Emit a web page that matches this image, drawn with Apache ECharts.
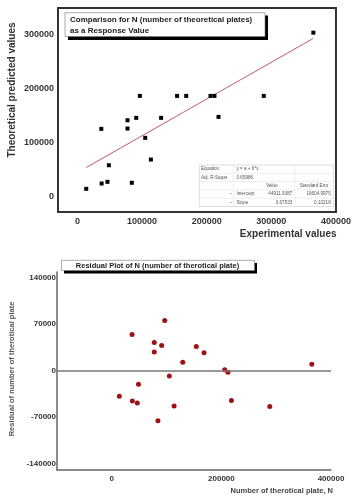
<!DOCTYPE html>
<html>
<head>
<meta charset="utf-8">
<script src="https://cdn.jsdelivr.net/npm/echarts@6/dist/echarts.min.js"></script>
<style>
  html, body { margin: 0; padding: 0; background: #fff; }
  #chart { width: 354px; height: 500px; }
</style>
</head>
<body>
<div id="chart"></div>
<script>
// experimental N values (shared by both plots)
const expX = [13700, 37000, 37500, 46500, 48700, 77500, 77500, 84200, 91000, 96600,
              104900, 113700, 129500, 154200, 168300, 205900, 212000, 218300, 288300, 365000]
// theoretical predicted N
const predY = [14700, 125200, 24500, 27600, 58200, 125800, 141100, 25800, 145500, 186000,
               108700, 68700, 145500, 186000, 186000, 186000, 186000, 147300, 186000, 302600]
// residuals
const residual = [-39000, 54000, -46000, -49000, -21000, 42000, 27500, -76000, 37500, 75000,
                  -8500, -53500, 12000, 36000, 26500, 1000, -3000, -45500, -54500, 9000]
// linear fit line ends
const fitX = [13700, 365000]
const fitY = [54000, 292000]

const topTicksX = [0, 100000, 200000, 300000, 400000]
const topTicksY = [0, 100000, 200000, 300000]
const resTicksX = [0, 200000, 400000]
const resTicksY = [-140000, -70000, 0, 70000, 140000]

// fit result table
const tableRows = [
  ['Equation', '', 'y = a + b*x', '', ''],
  ['Adj. R-Squar', '', '0.65986', '', ''],
  ['', '', '', 'Value', 'Standard Erro'],
  ['', '–', 'Intercept', '44911.9387', '16604.9975'],
  ['', '–', 'Slope', '0.67533', '0.10218']
]

const FONT = 'Liberation Sans, Arial, sans-serif'
const plain = v => String(v)

const chart = echarts.init(document.getElementById('chart'))

// table graphic
const tX = 199.3, tY = 165, tW = 134, rowH = 8.3
const tableEls = [{
  type: 'rect',
  shape: {x: tX, y: tY, width: tW, height: rowH * 5},
  style: {fill: '#fff', stroke: '#c8c8c8', lineWidth: 0.6},
  z: 100
}]
for (let i = 1; i < 5; i++) {
  tableEls.push({
    type: 'line',
    shape: {x1: tX, y1: tY + rowH * i, x2: tX + tW, y2: tY + rowH * i},
    style: {stroke: '#dcdcdc', lineWidth: 0.5},
    z: 101
  })
}
;[233.3, 295].forEach(x => {
  tableEls.push({
    type: 'line',
    shape: {x1: x, y1: tY, x2: x, y2: tY + rowH * 5},
    style: {stroke: '#dcdcdc', lineWidth: 0.5},
    z: 101
  })
})
tableRows.forEach((row, i) => {
  const cy = tY + rowH * i + rowH / 2
  const cells = [
    {t: row[0], x: 201, a: 'left'},
    {t: row[1], x: 232, a: 'right'},
    {t: row[2], x: 236.5, a: 'left'},
    {t: row[3], x: i === 2 ? 272 : 292.3, a: i === 2 ? 'center' : 'right'},
    {t: row[4], x: i === 2 ? 314 : 330.7, a: i === 2 ? 'center' : 'right'}
  ]
  cells.forEach(c => {
    if (!c.t) return
    tableEls.push({
      type: 'text',
      x: c.x, y: cy,
      style: {text: c.t, fontSize: 4.6, fontFamily: FONT, fill: '#555', align: c.a, verticalAlign: 'middle'},
      z: 102
    })
  })
})

chart.setOption({
  animation: false,
  backgroundColor: '#fff',
  grid: [
    {left: 58, top: 8, width: 279, height: 204, show: true, borderColor: '#333', borderWidth: 2, backgroundColor: '#fff'},
    {left: 57, top: 272, width: 274, height: 198}
  ],
  xAxis: [
    {
      gridIndex: 0, type: 'value', min: -30000, max: 400000,
      axisLine: {show: false}, axisTick: {show: false}, splitLine: {show: false},
      axisLabel: {customValues: topTicksX, formatter: plain, fontSize: 9, fontWeight: 'bold', fontFamily: FONT, color: '#333', margin: 5}
    },
    {
      gridIndex: 1, type: 'value', min: -100000, max: 400000,
      axisLine: {show: true, onZero: false, lineStyle: {color: '#666', width: 1.5}},
      axisTick: {show: false}, splitLine: {show: false},
      axisLabel: {customValues: resTicksX, formatter: plain, fontSize: 8, fontWeight: 'bold', fontFamily: FONT, color: '#333', margin: 5}
    }
  ],
  yAxis: [
    {
      gridIndex: 0, type: 'value', min: -28000, max: 348000,
      axisLine: {show: false}, axisTick: {show: false}, splitLine: {show: false},
      axisLabel: {customValues: topTicksY, formatter: plain, fontSize: 9, fontWeight: 'bold', fontFamily: FONT, color: '#333', margin: 4}
    },
    {
      gridIndex: 1, type: 'value', min: -150000, max: 148000,
      axisLine: {show: true, onZero: false, lineStyle: {color: '#666', width: 1.5}},
      axisTick: {show: false}, splitLine: {show: false},
      axisLabel: {customValues: resTicksY, formatter: plain, fontSize: 8, fontWeight: 'bold', fontFamily: FONT, color: '#333', margin: 1}
    }
  ],
  series: [
    {
      type: 'line', xAxisIndex: 0, yAxisIndex: 0,
      data: fitX.map((x, i) => [x, fitY[i]]),
      symbol: 'none',
      lineStyle: {color: '#c25b6b', width: 1},
      z: 2
    },
    {
      type: 'scatter', xAxisIndex: 0, yAxisIndex: 0,
      data: expX.map((x, i) => [x, predY[i]]),
      symbol: 'rect', symbolSize: 4,
      itemStyle: {color: '#000', opacity: 1},
      z: 3
    },
    {
      type: 'scatter', xAxisIndex: 1, yAxisIndex: 1,
      data: expX.map((x, i) => [x, residual[i]]),
      symbol: 'circle', symbolSize: 5,
      itemStyle: {color: '#9e1214', opacity: 1},
      markLine: {
        silent: true, symbol: 'none', label: {show: false},
        lineStyle: {color: '#777', width: 1.5, type: 'solid'},
        data: [{yAxis: 0}]
      },
      z: 3
    }
  ],
  graphic: [
    // top title box with shadow
    {type: 'rect', shape: {x: 68, y: 15.5, width: 200, height: 24.5}, style: {fill: '#000'}, z: 100},
    {type: 'rect', shape: {x: 65, y: 12.7, width: 200, height: 23.8}, style: {fill: '#fff', stroke: '#777', lineWidth: 0.6}, z: 101},
    {type: 'text', x: 70, y: 19.5, style: {text: 'Comparison for N (number of theoretical plates)', fontSize: 8, fontWeight: 'bold', fontFamily: FONT, fill: '#222', verticalAlign: 'middle'}, z: 102},
    {type: 'text', x: 70, y: 31, style: {text: 'as a Response Value', fontSize: 8, fontWeight: 'bold', fontFamily: FONT, fill: '#222', verticalAlign: 'middle'}, z: 102},
    // top axis titles
    {type: 'text', x: 12.5, y: 90, rotation: Math.PI / 2, style: {text: 'Theoretical predicted values', fontSize: 10, fontWeight: 'bold', fontFamily: FONT, fill: '#333', align: 'center', verticalAlign: 'middle'}},
    {type: 'text', x: 336.5, y: 234.5, style: {text: 'Experimental values', fontSize: 10, fontWeight: 'bold', fontFamily: FONT, fill: '#333', align: 'right', verticalAlign: 'middle'}},
    // residual title box with shadow
    {type: 'rect', shape: {x: 64, y: 263, width: 193, height: 10.5}, style: {fill: '#000'}, z: 100},
    {type: 'rect', shape: {x: 61.5, y: 260.3, width: 193, height: 10.2}, style: {fill: '#fff', stroke: '#777', lineWidth: 0.6}, z: 101},
    {type: 'text', x: 157.5, y: 265.6, style: {text: 'Residual Plot of N (number of therotical plate)', fontSize: 7.5, fontWeight: 'bold', fontFamily: FONT, fill: '#222', align: 'center', verticalAlign: 'middle'}, z: 102},
    // residual axis titles
    {type: 'text', x: 12, y: 369, rotation: Math.PI / 2, style: {text: 'Residual of number of therotical plate', fontSize: 7.5, fontWeight: 'bold', fontFamily: FONT, fill: '#555', align: 'center', verticalAlign: 'middle'}},
    {type: 'text', x: 333, y: 491, style: {text: 'Number of therotical plate, N', fontSize: 7.5, fontWeight: 'bold', fontFamily: FONT, fill: '#444', align: 'right', verticalAlign: 'middle'}}
  ].concat(tableEls)
})
</script>
</body>
</html>
